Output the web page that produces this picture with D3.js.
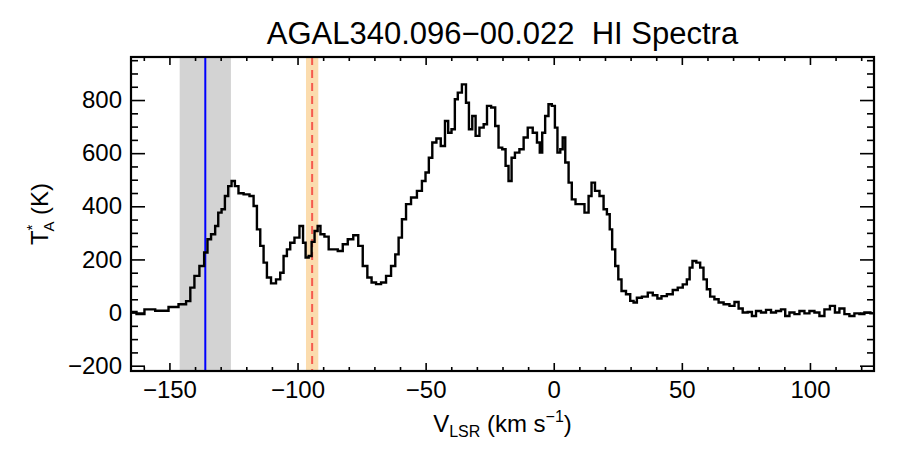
<!DOCTYPE html>
<html>
<head>
<meta charset="utf-8">
<script src="https://cdn.jsdelivr.net/npm/d3@7"></script>
<style>
  body { margin: 0; background: #fff; }
  text { font-family: "Liberation Sans", Arial, Helvetica, sans-serif; fill: #000; }
</style>
</head>
<body>
<div id="container"></div>
<script>
// spectrum (km/s, K)
var vel = [-165,-160.7,-158.8,-152.3,-148.4,-144.5,-142.5,-141.2,-139.3,-137.3,-135.6,-134.7,-132.8,-131.5,-130.4,-128.9,-127.8,-126.3,-125.2,-123.7,-122.4,-119.7,-117.8,-116.5,-115.2,-113.9,-112.6,-111.3,-109.4,-107.4,-106.1,-104.8,-103.5,-102.2,-100.2,-98.3,-97.4,-96.3,-95,-94,-92.7,-91.6,-90.5,-88.5,-87.2,-85.3,-83.3,-81.4,-79.4,-77.1,-75.5,-73.6,-71.9,
  -70.3,-68.4,-66.4,-64.5,-62.5,-61.2,-59.9,-58.6,-56.7,-54.7,-52.1,-50.8,-49.3,-48.2,-46.6,-45,-43.2,-41.7,-40.7,-39.1,-38.1,-36.8,-34.9,-33.6,-32.6,-31,-30,-28,-26.7,-25.4,-23.5,-22.2,-20.9,-19.3,-18.3,-17,-15.9,-14.4,-12.4,-11.1,-9.2,-7.2,-5.9,-5,-4,-2.7,-1.4,-0.1,1,1.9,3.2,3.8,5.2,6.4,7.7,9.3,11,13,14.2,15.3,16.9,18.8,20.1,21.4,22.3,23.3,24.7,25.7,
  27.2,29.2,30.5,31.8,33.1,35.7,37.7,39.6,41.3,42.8,45.5,47.4,49.4,51.3,52.6,53.5,54.8,56.5,57.8,59.1,60.4,61.7,63.7,65,67.6,69.6,71.5,72.8,74.7,76.7,78,79.9,81.9,83.8,85.8,87.7,89.7,91,93,94.9,96.9,98.8,100.8,102.7,104.7,106.6,109,110.5,112.5,114.4,116.4,118.3,120.3,122.2,125]
var ta = [2,-6,12,7,21,31,43,94,138,175,226,276,295,326,376,389,439,476,495,476,449,445,439,401,313,251,188,132,110,125,150,213,238,263,282,326,263,207,213,266,307,326,295,286,238,238,232,257,276,291,251,175,132,
  113,107,113,138,175,219,282,351,408,433,458,495,527,583,640,655,627,721,677,690,803,828,859,790,690,740,665,696,709,778,772,702,621,615,552,495,583,602,615,659,696,677,640,602,677,740,784,778,696,602,615,659,565,489,426,408,408,376,439,489,458,439,389,370,313,238,175,125,
  81,69,44,38,56,60,75,65,53,62,69,85,94,106,125,169,194,188,169,125,88,60,50,38,31,25,40,15,0,2,-13,6,0,10,0,6,12,-13,0,-6,6,-3,6,0,-13,12,25,0,15,-6,-13,-3,-6,0,-3]

var xMajor = [-150,-100,-50,0,50,100]
var xMinor = [-160,-140,-130,-120,-110,-90,-80,-70,-60,-40,-30,-20,-10,10,20,30,40,60,70,80,90,110,120]
var yMajor = [-200,0,200,400,600,800]
var yMinor = [-150,-100,-50,50,100,150,250,300,350,450,500,550,650,700,750,850,900,950]

// marked velocity ranges
var grayBand = [-146, -126], blueLine = -136
var orangeBand = [-96.7, -91.9], redLine = -94.3

var svg = d3.select("#container").append("svg").attr("width",900).attr("height",450)
svg.append("rect").attr("width",900).attr("height",450).attr("fill","#fff")

var pLeft = 131, pRight = 874, pTop = 57, pBottom = 371
var xScale = d3.scaleLinear().domain([-165,125]).range([pLeft,pRight])
var yScale = d3.scaleLinear().domain([-220,962]).range([pBottom,pTop])

// bands
svg.append("rect").attr("x",xScale(grayBand[0])).attr("y",pTop)
  .attr("width",xScale(grayBand[1])-xScale(grayBand[0])).attr("height",pBottom-pTop)
  .attr("fill","#d3d3d3")
svg.append("rect").attr("x",xScale(orangeBand[0])).attr("y",pTop)
  .attr("width",xScale(orangeBand[1])-xScale(orangeBand[0])).attr("height",pBottom-pTop)
  .attr("fill","#fbdcae")
svg.append("line").attr("x1",xScale(blueLine)).attr("x2",xScale(blueLine))
  .attr("y1",pTop).attr("y2",pBottom).attr("stroke","#0000ff").attr("stroke-width",2)
svg.append("line").attr("x1",xScale(redLine)).attr("x2",xScale(redLine))
  .attr("y1",pTop).attr("y2",pBottom).attr("stroke","#f55a4e").attr("stroke-width",2)
  .attr("stroke-dasharray","8,5")

// spectrum
var pts = vel.map(function(v,i){ return [v, ta[i]] })
svg.append("path")
  .attr("fill","none").attr("stroke","#000").attr("stroke-width",2.4)
  .attr("d", d3.line().curve(d3.curveStep)
    .x(function(d){return xScale(d[0])})
    .y(function(d){return yScale(d[1])})(pts))

// axes with inward ticks
function addAxis(axis, tr){
  var g = svg.append("g").attr("transform",tr).call(axis)
  g.select(".domain").remove()
  g.selectAll("line").attr("stroke","#000").attr("stroke-width",1.6)
  g.selectAll("text").style("font-size","24px").attr("fill","#000")
  return g
}
addAxis(d3.axisBottom(xScale).tickValues(xMajor).tickSize(-8).tickPadding(10), "translate(0,"+pBottom+")")
addAxis(d3.axisBottom(xScale).tickValues(xMinor).tickSize(-4).tickFormat(""), "translate(0,"+pBottom+")")
addAxis(d3.axisTop(xScale).tickValues(xMajor).tickSize(-8).tickFormat(""), "translate(0,"+pTop+")")
addAxis(d3.axisTop(xScale).tickValues(xMinor).tickSize(-4).tickFormat(""), "translate(0,"+pTop+")")
addAxis(d3.axisLeft(yScale).tickValues(yMajor).tickSize(-14).tickPadding(9), "translate("+pLeft+",0)")
addAxis(d3.axisLeft(yScale).tickValues(yMinor).tickSize(-7).tickFormat(""), "translate("+pLeft+",0)")
addAxis(d3.axisRight(yScale).tickValues(yMajor).tickSize(-14).tickFormat(""), "translate("+pRight+",0)")
addAxis(d3.axisRight(yScale).tickValues(yMinor).tickSize(-7).tickFormat(""), "translate("+pRight+",0)")

svg.append("rect").attr("x",pLeft).attr("y",pTop).attr("width",pRight-pLeft).attr("height",pBottom-pTop)
  .attr("fill","none").attr("stroke","#000").attr("stroke-width",2.2)

// title
svg.append("text").attr("x",(pLeft+pRight)/2).attr("y",44).attr("text-anchor","middle")
  .style("font-size","31px").style("white-space","pre")
  .text("AGAL340.096\u221200.022  HI Spectra")

// x label
var xl = svg.append("text").attr("x",(pLeft+pRight)/2).attr("y",432).attr("text-anchor","middle").style("font-size","24px")
xl.append("tspan").text("V")
xl.append("tspan").attr("dy",5).style("font-size","16px").text("LSR")
xl.append("tspan").attr("dy",-5).text(" (km s")
xl.append("tspan").attr("dy",-10).style("font-size","16px").text("\u22121")
xl.append("tspan").attr("dy",10).text(")")

// y label
var yl = svg.append("text").attr("transform","translate(48,214) rotate(-90)")
  .attr("text-anchor","middle").style("font-size","24px")
yl.append("tspan").text("T")
yl.append("tspan").attr("dy",-11).style("font-size","15px").text("*")
yl.append("tspan").attr("dx",-7).attr("dy",17).style("font-size","15px").text("A")
yl.append("tspan").attr("dy",-6).text(" (K)")
</script>
</body>
</html>
